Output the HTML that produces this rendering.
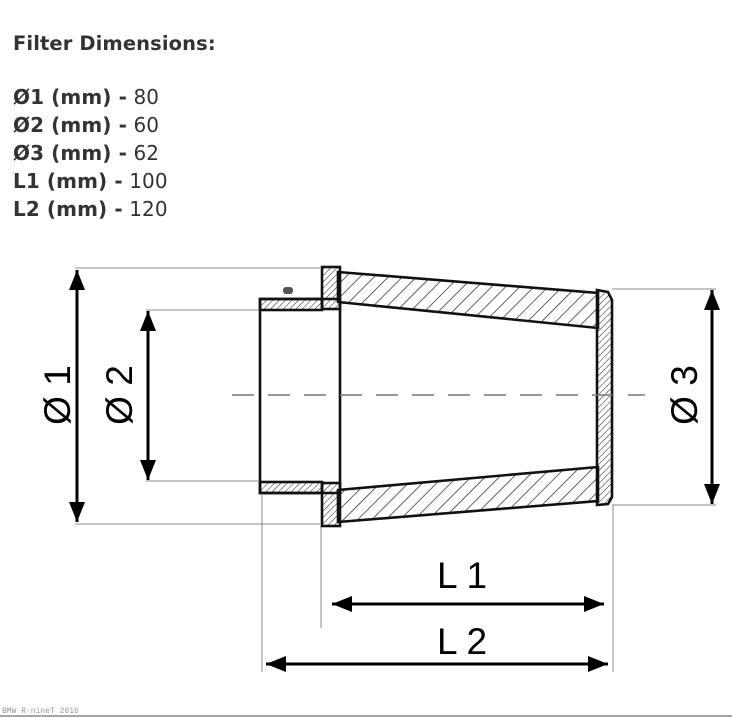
<!DOCTYPE html>
<html><head><meta charset="utf-8"><style>
body{margin:0;width:732px;height:717px;background:#fff;overflow:hidden;position:relative;font-family:"DejaVu Sans",sans-serif;}
.t{position:absolute;left:13px;color:#333;font-size:20px;line-height:28px;letter-spacing:0.1px;}
b{font-weight:bold;}
</style></head><body>
<div class="t" style="top:30px;font-size:19.5px;font-weight:bold">Filter Dimensions:</div>
<div class="t" style="top:83px"><b>Ø1 (mm) -</b> 80<br><b>Ø2 (mm) -</b> 60<br><b>Ø3 (mm) -</b> 62<br><b>L1 (mm) -</b> 100<br><b>L2 (mm) -</b> 120</div>
<svg width="732" height="717" style="position:absolute;left:0;top:0" xmlns="http://www.w3.org/2000/svg">
<defs>
<pattern id="h" width="10" height="10" patternUnits="userSpaceOnUse" patternTransform="rotate(45)"><line x1="0" y1="0" x2="0" y2="10" stroke="#222" stroke-width="1.4"/></pattern>
<pattern id="h2" width="4.5" height="4.5" patternUnits="userSpaceOnUse" patternTransform="rotate(45)"><line x1="0" y1="0" x2="0" y2="4.5" stroke="#222" stroke-width="1"/></pattern>
<marker id="a" viewBox="0 0 20 16" refX="20" refY="8" markerWidth="20" markerHeight="16" markerUnits="userSpaceOnUse" orient="auto-start-reverse"><path d="M0,0 L20,8 L0,16z" fill="#000"/></marker>
</defs>
<g stroke="#888" stroke-width="1" fill="none">
<line x1="75" y1="268" x2="320" y2="268"/><line x1="75" y1="524" x2="320" y2="524"/>
<line x1="146" y1="310" x2="258" y2="310"/><line x1="146" y1="481" x2="258" y2="481"/>
<line x1="612" y1="289" x2="716" y2="289"/><line x1="612" y1="505" x2="716" y2="505"/>
<line x1="321" y1="526" x2="321" y2="628"/><line x1="613" y1="505" x2="613" y2="672"/>
<line x1="262" y1="495" x2="262" y2="672"/>
</g>
<g stroke="#000" stroke-width="3" marker-start="url(#a)" marker-end="url(#a)" fill="none">
<line x1="77" y1="270" x2="77" y2="522"/>
<line x1="148" y1="311" x2="148" y2="480"/>
<line x1="712" y1="290" x2="712" y2="504"/>
<line x1="332" y1="604" x2="604" y2="604"/>
<line x1="266" y1="664" x2="608" y2="664"/>
</g>
<g stroke="#111" stroke-width="2.6" stroke-linejoin="miter" fill="none">
<rect x="260" y="299" width="80" height="194"/>
<rect x="260" y="299" width="62" height="11" fill="url(#h2)"/>
<rect x="260" y="482" width="62" height="11" fill="url(#h2)"/>
<rect x="322" y="267" width="18" height="42" fill="url(#h2)"/>
<rect x="322" y="483" width="18" height="43" fill="url(#h2)"/>
<polygon points="338,272 598,293 598,328 338,302" fill="url(#h)"/>
<polygon points="338,490 598,467 598,501 338,522" fill="url(#h)"/>
<polygon points="597,290 608,292 612,300 612,497 608,504 597,505" fill="url(#h2)"/>
</g>
<line x1="232" y1="395" x2="645" y2="395" stroke="#777" stroke-width="1.5" stroke-dasharray="22,14"/>
<rect x="283" y="287" width="10" height="7" rx="3" fill="#555"/>
<g font-family="Liberation Sans,sans-serif" font-size="37" fill="#000">
<text x="462" y="588" text-anchor="middle">L 1</text>
<text x="462" y="654" text-anchor="middle">L 2</text>
<text transform="translate(70,395) rotate(-90)" text-anchor="middle">Ø 1</text>
<text transform="translate(132,395) rotate(-90)" text-anchor="middle">Ø 2</text>
<text transform="translate(697,395) rotate(-90)" text-anchor="middle">Ø 3</text>
</g>
<text x="2" y="713" font-family="Liberation Mono,monospace" font-size="8" fill="#999">BMW R-nineT 2016</text>
<line x1="0" y1="716" x2="732" y2="716" stroke="#888" stroke-width="1.5"/>
</svg>
</body></html>
